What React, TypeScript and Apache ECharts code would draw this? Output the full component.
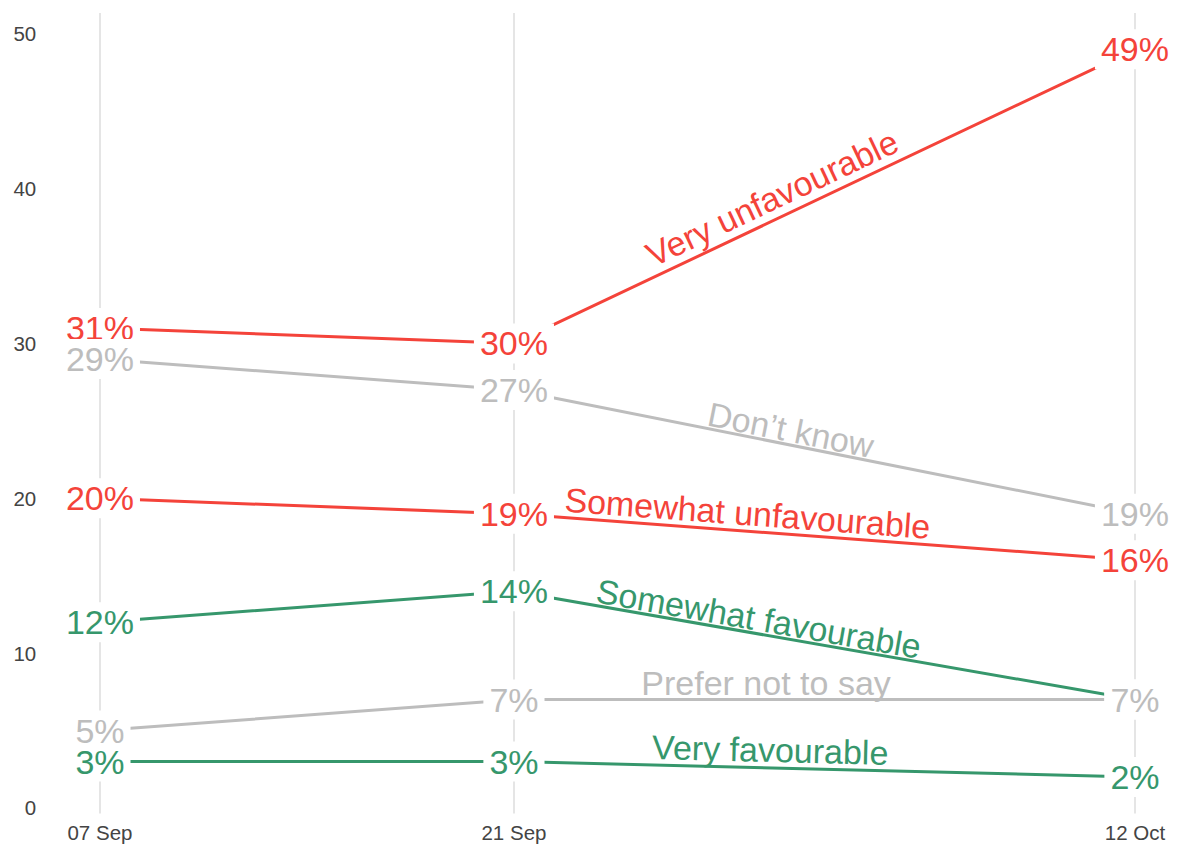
import React, { useEffect, useRef } from "react";
import * as echarts from "echarts";

const dateKeys = ["2020-09-07", "2020-09-21", "2020-10-12"];
const dateLabels = ["07 Sep", "21 Sep", "12 Oct"];
const yTicks = [0, 10, 20, 30, 40, 50];

const seriesNames = [
  "Very unfavourable",
  "Don\u2019t know",
  "Somewhat unfavourable",
  "Somewhat favourable",
  "Very favourable",
  "Prefer not to say",
];
const veryUnfavourable = [31, 30, 49];
const dontKnow = [29, 27, 19];
const somewhatUnfavourable = [20, 19, 16];
const somewhatFavourable = [12, 14, 7];
const veryFavourable = [3, 3, 2];
const preferNotToSay = [5, 7, 7];
const seriesValues = [
  veryUnfavourable,
  dontKnow,
  somewhatUnfavourable,
  somewhatFavourable,
  veryFavourable,
  preferNotToSay,
];

const RED = "#f4433a";
const GREEN = "#36976c";
const GREY = "#bdbdbd";
const seriesColors = [RED, GREY, RED, GREEN, GREEN, GREY];
// label placement along the 21 Sep -> 12 Oct segment (fraction, baseline gap px)
const nameFraction = [0.43, 0.441, 0.374, 0.39, 0.412, 0.406];
const nameGap = [9, 3, 6, 3, 6, 5];

const FONT = '"Liberation Sans", Arial, Helvetica, sans-serif';
const DAY = 86400000;
const BIG = 34;

export default function App() {
  const ref = useRef<HTMLDivElement>(null);
  useEffect(() => {
    document.body.style.margin = "0";
    if (!ref.current) return;
    const chart = echarts.init(ref.current, null, { renderer: "svg" });
    const t0 = Date.parse(dateKeys[0]);
    const days = dateKeys.map((d) => Math.round((Date.parse(d) - t0) / DAY));
    const span = days[days.length - 1] - days[0];
    const xPad = span * 0.05;
    const yLo = 2, yHi = 49;
    const yPad = (yHi - yLo) * 0.05;

    const series = seriesNames.map((name, i) => ({
      name,
      type: "line",
      data: seriesValues[i].map((v, j) => [days[j], v]),
      symbol: "circle",
      symbolSize: 0,
      showSymbol: true,
      silent: true,
      emphasis: { disabled: true },
      itemStyle: { color: seriesColors[i] },
      lineStyle: { color: seriesColors[i], width: 3 },
      label: {
        show: true,
        position: "inside",
        formatter: (p: any) => p.value[1] + "%",
        color: seriesColors[i],
        fontSize: BIG,
        fontFamily: FONT,
        backgroundColor: "#ffffff",
        padding: [3, 6],
        lineHeight: 34,
      },
    }));

    chart.setOption({
      animation: false,
      grid: { left: 48.2, right: 13.3, top: 12.9, bottom: 43.6, containLabel: false },
      xAxis: {
        type: "value",
        min: days[0] - xPad,
        max: days[days.length - 1] + xPad,
        axisLine: { show: false },
        axisTick: { show: false, customValues: days },
        axisLabel: {
          customValues: days,
          formatter: (v: number) => {
            const k = days.indexOf(Math.round(v));
            return k >= 0 ? dateLabels[k] : "";
          },
          color: "#444",
          fontSize: 20.5,
          fontFamily: FONT,
          margin: 9,
        },
        splitLine: { show: true, lineStyle: { color: "#e5e5e5", width: 2 } },
      },
      yAxis: {
        type: "value",
        min: yLo - yPad,
        max: yHi + yPad,
        axisLine: { show: false },
        axisTick: { show: false, customValues: yTicks },
        axisLabel: {
          customValues: yTicks,
          color: "#444",
          fontSize: 20.5,
          fontFamily: FONT,
          margin: 12,
        },
        splitLine: { show: false },
      },
      series,
    });

    const graphics = seriesNames.map((name, i) => {
      const a = chart.convertToPixel({ gridIndex: 0 }, [days[1], seriesValues[i][1]]) as number[];
      const b = chart.convertToPixel({ gridIndex: 0 }, [days[2], seriesValues[i][2]]) as number[];
      const dx = b[0] - a[0];
      const dy = b[1] - a[1];
      const len = Math.sqrt(dx * dx + dy * dy);
      const nx = dy / len;
      const ny = -dx / len;
      const t = nameFraction[i];
      const d = nameGap[i] + 12;
      return {
        type: "text",
        x: a[0] + dx * t + nx * d,
        y: a[1] + dy * t + ny * d,
        rotation: Math.atan2(-dy, dx),
        silent: true,
        z: 10,
        style: {
          text: name,
          fill: seriesColors[i],
          fontSize: BIG,
          fontFamily: FONT,
          align: "center",
          verticalAlign: "middle",
        },
      };
    });
    chart.setOption({ graphic: graphics });

    return () => chart.dispose();
  }, []);
  return <div ref={ref} style={{ width: 1200, height: 857 }} />;
}
